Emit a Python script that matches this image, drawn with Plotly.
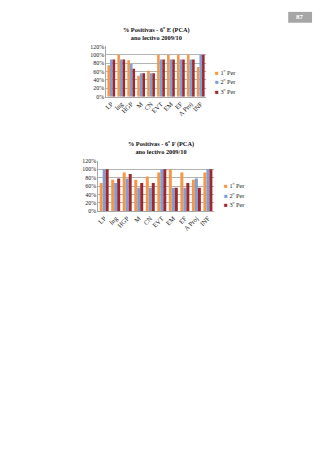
import plotly.graph_objects as go

categories = ["LP", "Ing", "HGP", "M", "CN", "EVT", "EM", "EF", "A Proj", "INF"]
series_names = ["1º Per", "2º Per", "3º Per"]
colors = ["#F79646", "#7F9ED4", "#A0282C"]

e_p1 = [75, 100, 87, 50, 62, 100, 100, 100, 100, 71]
e_p2 = [89, 89, 78, 56, 56, 89, 89, 89, 89, 100]
e_p3 = [89, 89, 67, 56, 56, 89, 89, 89, 89, 100]

f_p1 = [67, 75, 92, 75, 83, 92, 100, 92, 75, 92]
f_p2 = [100, 67, 78, 56, 56, 100, 56, 56, 78, 100]
f_p3 = [100, 78, 89, 67, 67, 100, 56, 67, 56, 100]

tick_vals = [0, 20, 40, 60, 80, 100, 120]
tick_text = ["0%", "20%", "40%", "60%", "80%", "100%", "120%"]

W, H = 320, 452
FONT = "Liberation Serif"

fig = go.Figure()
for i, vals in enumerate([e_p1, e_p2, e_p3]):
    fig.add_trace(go.Bar(x=categories, y=vals, name=series_names[i], marker_color=colors[i],
                         marker_line_width=0, xaxis="x", yaxis="y", showlegend=False))
for i, vals in enumerate([f_p1, f_p2, f_p3]):
    fig.add_trace(go.Bar(x=categories, y=vals, name=series_names[i], marker_color=colors[i],
                         marker_line_width=0, xaxis="x2", yaxis="y2", showlegend=False))

def px_x(x):
    return x / W

def px_y(y):
    return 1 - y / H

xaxis_common = dict(tickfont=dict(family=FONT, size=6.5, color="#222"), showline=True,
                    linecolor="#A8A8A8", linewidth=1, ticks="", fixedrange=True, tickangle=-45)
yaxis_common = dict(tickfont=dict(family=FONT, size=6, color="#222"), showline=True,
                    linecolor="#A8A8A8", linewidth=1, ticks="", fixedrange=True,
                    range=[0, 120], tickvals=tick_vals, ticktext=tick_text,
                    showgrid=True, gridcolor="#B4B4B4", gridwidth=1)

fig.update_layout(
    width=W, height=H, margin=dict(l=0, r=0, t=0, b=0),
    paper_bgcolor="white", plot_bgcolor="white",
    barmode="group", bargap=0.22, bargroupgap=0,
    xaxis=dict(domain=[px_x(105), px_x(205)], anchor="y", **xaxis_common),
    yaxis=dict(domain=[px_y(95), px_y(44)], anchor="x", **yaxis_common),
    xaxis2=dict(domain=[px_x(97), px_x(213)], anchor="y2", **xaxis_common),
    yaxis2=dict(domain=[px_y(211), px_y(160)], anchor="x2", **yaxis_common),
    showlegend=False,
)

annotations = []
annotations.append(dict(x=px_x(155), y=px_y(31), xref="paper", yref="paper",
                        text="<b>% Positivas - 6º E (PCA)<br>ano lectivo 2009/10</b>",
                        showarrow=False, font=dict(family=FONT, size=6.3, color="#111"),
                        xanchor="center", yanchor="middle"))
annotations.append(dict(x=px_x(160), y=px_y(146), xref="paper", yref="paper",
                        text="<b>% Positivas - 6º F (PCA)<br>ano lectivo 2009/10</b>",
                        showarrow=False, font=dict(family=FONT, size=6.3, color="#111"),
                        xanchor="center", yanchor="middle"))

def add_legend(x0, ys):
    for name, col, yy in zip(series_names, colors, ys):
        annotations.append(dict(x=px_x(x0), y=px_y(yy), xref="paper", yref="paper",
                                text=f"<span style='color:{col}'>■</span> {name}",
                                showarrow=False, font=dict(family=FONT, size=6.3, color="#222"),
                                xanchor="left", yanchor="middle"))

add_legend(212, [70, 80, 90])
add_legend(221, [185, 195, 204])

annotations.append(dict(x=px_x(300), y=px_y(14.5), xref="paper", yref="paper", text="<b>87</b>",
                        showarrow=False, font=dict(family=FONT, size=7, color="white"),
                        xanchor="center", yanchor="middle"))
fig.update_layout(annotations=annotations)
fig.add_shape(type="rect", xref="paper", yref="paper", x0=px_x(288), x1=px_x(312),
              y0=px_y(20), y1=px_y(9), fillcolor="#A6A6A6", line_width=0, layer="below")

fig.write_html("out.html")
